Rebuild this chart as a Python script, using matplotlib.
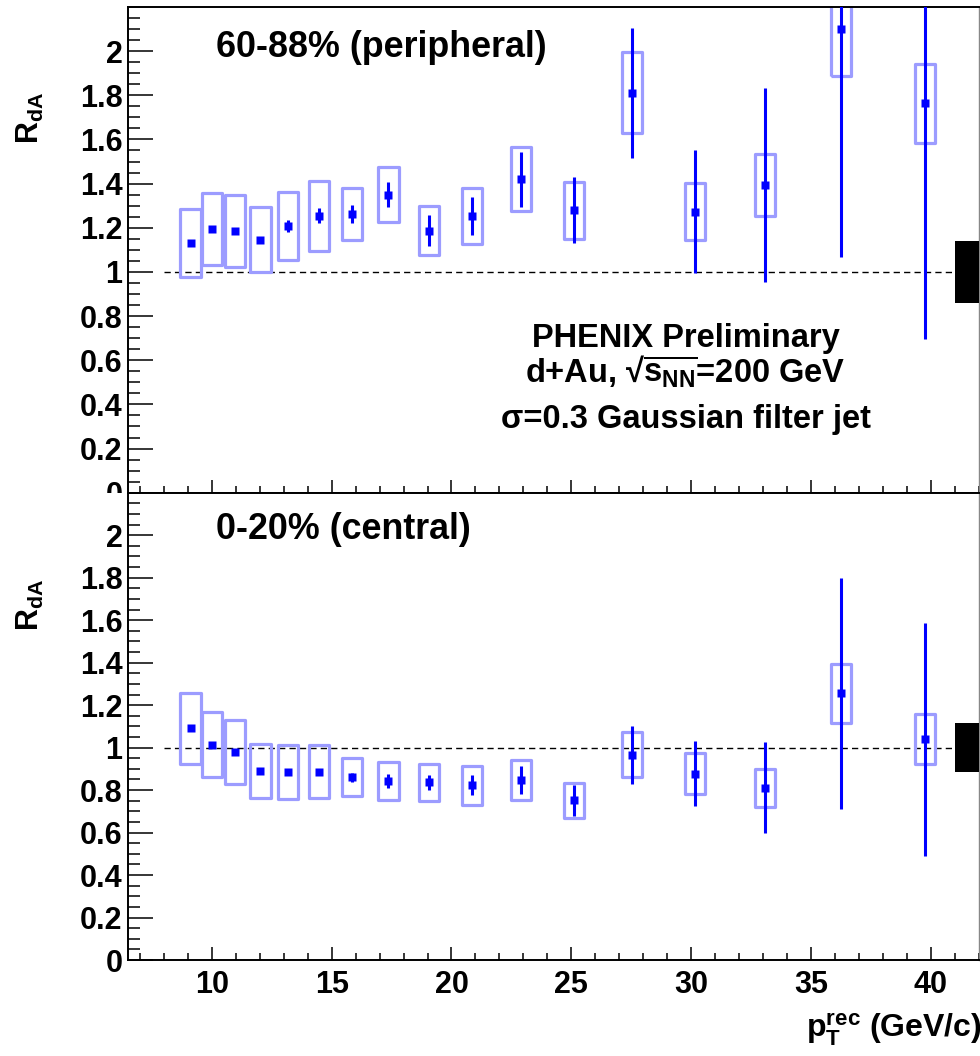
import matplotlib
matplotlib.use("Agg")
import matplotlib.pyplot as plt
from matplotlib.patches import Rectangle
from matplotlib.ticker import MultipleLocator, FixedLocator
from matplotlib.transforms import Bbox, TransformedBbox

plt.rcParams['font.family'] = ['Liberation Sans', 'DejaVu Sans']
plt.rcParams['font.weight'] = 'bold'
plt.rcParams['mathtext.fontset'] = 'custom'
plt.rcParams['mathtext.rm'] = 'Liberation Sans:bold'
plt.rcParams['mathtext.bf'] = 'Liberation Sans:bold'
plt.rcParams['mathtext.it'] = 'Liberation Sans:bold'
plt.rcParams['mathtext.sf'] = 'Liberation Sans:bold'

# jet pT bin centres (GeV/c)
pt = [9.11, 10.0, 10.97, 12.03, 13.19, 14.46, 15.85, 17.37, 19.07,
      20.87, 22.90, 25.10, 27.53, 30.18, 33.08, 36.27, 39.78]

# 60-88% peripheral
rda_per = [1.131, 1.195, 1.187, 1.146, 1.208, 1.255, 1.263, 1.350, 1.187,
           1.254, 1.420, 1.279, 1.811, 1.273, 1.394, 2.098, 1.763]
stat_per = [0.012, 0.012, 0.012, 0.012, 0.026, 0.035, 0.042, 0.057, 0.069,
            0.087, 0.125, 0.150, 0.295, 0.280, 0.440, 1.030, 1.067]
sys_per = [0.155, 0.164, 0.163, 0.146, 0.153, 0.159, 0.118, 0.125, 0.110,
           0.126, 0.145, 0.129, 0.184, 0.129, 0.142, 0.211, 0.179]
norm_per = 0.14

# 0-20% central
rda_cen = [1.091, 1.014, 0.978, 0.890, 0.884, 0.887, 0.861, 0.844, 0.836,
           0.823, 0.848, 0.751, 0.966, 0.878, 0.811, 1.255, 1.039]
stat_cen = [0.010, 0.010, 0.010, 0.010, 0.010, 0.010, 0.021, 0.034, 0.037,
            0.048, 0.065, 0.075, 0.136, 0.155, 0.215, 0.545, 0.548]
sys_cen = [0.167, 0.154, 0.151, 0.127, 0.127, 0.125, 0.088, 0.089, 0.087,
           0.092, 0.096, 0.084, 0.106, 0.097, 0.090, 0.140, 0.118]
norm_cen = 0.117

panel_labels = ['60-88% (peripheral)', '0-20% (central)']

BOX_HALF = 0.42
XMIN, XMAX = 6.5, 42.0
YMIN, YMAX = 0.0, 2.2

fig = plt.figure(figsize=(9.8, 10.56), dpi=100)
ax_top = fig.add_axes([0.1306, 0.5334, 0.868, 0.4600])
ax_bot = fig.add_axes([0.1306, 0.0909, 0.868, 0.4425])


def draw_panel(ax, y, stat, sys, norm, label, label_y):
    for xi, yi, si in zip(pt, y, sys):
        ax.add_patch(Rectangle((xi - BOX_HALF, yi - si), 2 * BOX_HALF, 2 * si,
                               fill=False, edgecolor='#9c9cff', lw=2.3,
                               joinstyle='round', zorder=2))
    ax.errorbar(pt, y, yerr=stat, fmt='s', color='#0000ff', ms=6.2,
                mec='none', elinewidth=2.2, capsize=0, zorder=3)
    ax.plot([8.0, XMAX], [1, 1], color='black', lw=1.0,
            dashes=(4.5, 3.0), zorder=1)
    ax.add_patch(Rectangle((41.03, 1 - norm), 2.0, 2 * norm,
                           facecolor='black', edgecolor='none', zorder=4))
    ax.set_xlim(XMIN, XMAX)
    ax.set_ylim(YMIN, YMAX)
    ax.yaxis.set_major_locator(FixedLocator([0, 0.2, 0.4, 0.6, 0.8, 1, 1.2,
                                             1.4, 1.6, 1.8, 2]))
    ax.yaxis.set_major_formatter(plt.FuncFormatter(lambda v, p: f'{v:g}'))
    ax.yaxis.set_minor_locator(MultipleLocator(0.05))
    ax.xaxis.set_major_locator(MultipleLocator(5))
    ax.xaxis.set_minor_locator(MultipleLocator(1))
    ax.tick_params(axis='y', which='major', direction='in', length=18,
                   width=1.1, labelsize=22, pad=4)
    ax.tick_params(axis='y', which='minor', direction='in', length=8.6,
                   width=1.1)
    ax.tick_params(axis='x', which='major', direction='in', length=9.5,
                   width=1.1, labelsize=22, pad=7)
    ax.tick_params(axis='x', which='minor', direction='in', length=5,
                   width=1.1)
    ax.tick_params(top=False, right=False)
    for sp in ax.spines.values():
        sp.set_linewidth(1.4)
    ax.spines['right'].set_color('#888888')
    ax.spines['right'].set_linewidth(1.0)
    ax.text(0.104, label_y, label, transform=ax.transAxes, fontsize=25.8,
            fontweight='bold', ha='left', va='baseline')


draw_panel(ax_top, rda_per, stat_per, sys_per, norm_per, panel_labels[0], 0.8965)
draw_panel(ax_bot, rda_cen, stat_cen, sys_cen, norm_cen, panel_labels[1], 0.901)
ax_top.tick_params(axis='x', labelbottom=False)

# the "0" label of the upper panel is cut by the lower panel
fig.canvas.draw()
clip = TransformedBbox(Bbox([[0, 0.5334], [1, 1]]), fig.transFigure)
for t in ax_top.get_yticklabels():
    t.set_clip_box(clip)
    t.set_clip_on(True)

ax_top.text(0.6555, 0.3006, 'PHENIX Preliminary', transform=ax_top.transAxes,
            fontsize=23.5, ha='center', va='baseline')
ax_top.text(0.6555, 0.2259,
            r'd+Au, √$\overline{\mathregular{s}_{\mathregular{NN}}}$=200 GeV',
            transform=ax_top.transAxes, fontsize=23.5, ha='center', va='baseline')
ax_top.text(0.6555, 0.1332, 'σ=0.3 Gaussian filter jet',
            transform=ax_top.transAxes, fontsize=23.5, ha='center', va='baseline')

fig.text(0.0306, 1 - 92 / 1056, r'R$_{\mathregular{dA}}$', rotation=90,
         fontsize=22, ha='center', va='top')
fig.text(0.0306, 1 - 579 / 1056, r'R$_{\mathregular{dA}}$', rotation=90,
         fontsize=22, ha='center', va='top')
fig.text(982 / 980, 1 - 1037 / 1056,
         r'p$_{\mathregular{T}}^{\mathregular{rec}}$ (GeV/c)',
         fontsize=23, ha='right', va='baseline')

fig.savefig('out.png', dpi=100)
